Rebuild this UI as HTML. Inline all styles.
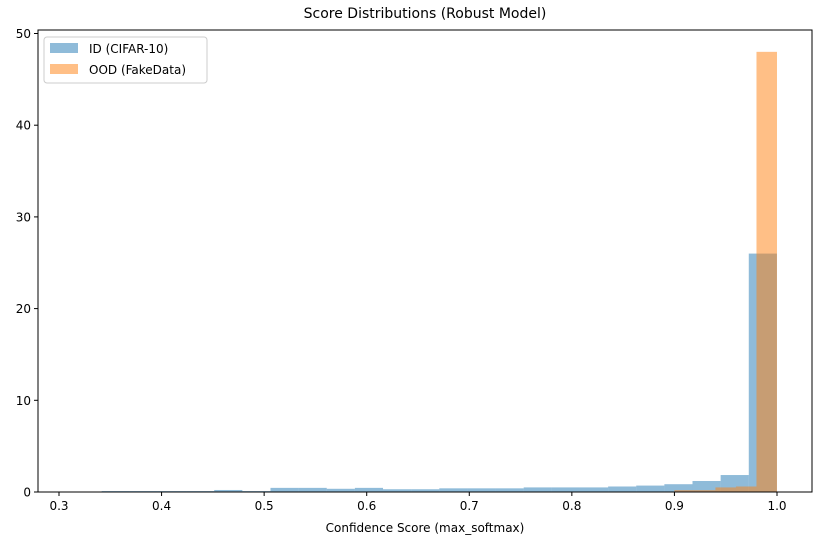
<!DOCTYPE html>
<html><head><meta charset="utf-8"><style>
body{margin:0;background:#fff;}
svg text{font-family:"DejaVu Sans","Liberation Sans",sans-serif;fill:#000;}
</style></head><body>
<svg id="chart" width="822" height="545" viewBox="0 0 822 545" xmlns="http://www.w3.org/2000/svg">
<rect width="822" height="545" fill="#fff"/>
<text x="425" y="18" font-size="14" text-anchor="middle">Score Distributions (Robust Model)</text>
<g id="bars"></g>
<g id="axes"></g>
<rect x="38" y="30" width="774" height="462" fill="none" stroke="#000" stroke-width="1"/>
<text x="425" y="532" font-size="12" text-anchor="middle">Confidence Score (max_softmax)</text>
<g>
<rect x="44" y="37" width="163" height="46" rx="3" fill="#fff" fill-opacity="0.8" stroke="#ccc"/>
<rect x="50" y="43" width="28" height="10" fill="#1f77b4" fill-opacity="0.5"/>
<text x="89" y="53" font-size="12">ID (CIFAR-10)</text>
<rect x="50" y="64" width="28" height="10" fill="#ff7f0e" fill-opacity="0.5"/>
<text x="89" y="74" font-size="12">OOD (FakeData)</text>
</g>
</svg>
<script>
const idStart = 0.3416;
const idBinWidth = 0.02743;
const idValues = [0.1,0.1,0.1,0.1,0.22,0.1,0.45,0.45,0.35,0.45,0.3,0.3,0.4,0.4,0.4,0.5,0.5,0.5,0.6,0.7,0.85,1.2,1.85,26];
const oodStart = 0.40;
const oodBinWidth = 0.02;
const oodValues = [0,0,0,0,0,0.05,0.05,0.05,0.05,0.05,0.05,0.05,0.05,0.05,0.05,0.05,0.05,0.05,0.05,0.05,0.05,0.05,0.05,0.05,0.05,0.2,0.2,0.5,0.6,48];
const xTicks = [0.3,0.4,0.5,0.6,0.7,0.8,0.9,1.0];
const xTickLabels = ["0.3","0.4","0.5","0.6","0.7","0.8","0.9","1.0"];
const yTicks = [0,10,20,30,40,50];
const yTickLabels = ["0","10","20","30","40","50"];

const NS = "http://www.w3.org/2000/svg";
function xs(v){ return 59 + (v - 0.3) * 1025.7; }
function ys(v){ return 492 - v * 9.17; }
const bars = document.getElementById('bars');
function drawSeries(start, w, vals, color, name){
  vals.forEach((v,i)=>{
    const x0 = xs(start + i*w), x1 = xs(start + (i+1)*w);
    const r = document.createElementNS(NS,'rect');
    r.setAttribute('x', x0); r.setAttribute('width', x1 - x0);
    r.setAttribute('y', ys(v)); r.setAttribute('height', ys(0) - ys(v));
    r.setAttribute('fill', color); r.setAttribute('fill-opacity', '0.5');
    
    
    bars.appendChild(r);
  });
}
drawSeries(idStart, idBinWidth, idValues, '#1f77b4', 'id');
drawSeries(oodStart, oodBinWidth, oodValues, '#ff7f0e', 'ood');
const axes = document.getElementById('axes');
xTicks.forEach((t,i)=>{
  const x = xs(t);
  const l = document.createElementNS(NS,'line');
  l.setAttribute('x1',x); l.setAttribute('x2',x); l.setAttribute('y1',492); l.setAttribute('y2',496);
  l.setAttribute('stroke','#000');
  
  
  axes.appendChild(l);
  const tx = document.createElementNS(NS,'text');
  tx.setAttribute('x',x); tx.setAttribute('y',510); tx.setAttribute('font-size','12'); tx.setAttribute('text-anchor','middle');
  tx.textContent = xTickLabels[i];
  
  
  axes.appendChild(tx);
});
yTicks.forEach((t,i)=>{
  const y = ys(t);
  const l = document.createElementNS(NS,'line');
  l.setAttribute('x1',34); l.setAttribute('x2',38); l.setAttribute('y1',y); l.setAttribute('y2',y);
  l.setAttribute('stroke','#000');
  
  
  axes.appendChild(l);
  const tx = document.createElementNS(NS,'text');
  tx.setAttribute('x',31); tx.setAttribute('y',y+4.5); tx.setAttribute('font-size','12'); tx.setAttribute('text-anchor','end');
  tx.textContent = yTickLabels[i];
  
  
  axes.appendChild(tx);
});
</script>
</body></html>
